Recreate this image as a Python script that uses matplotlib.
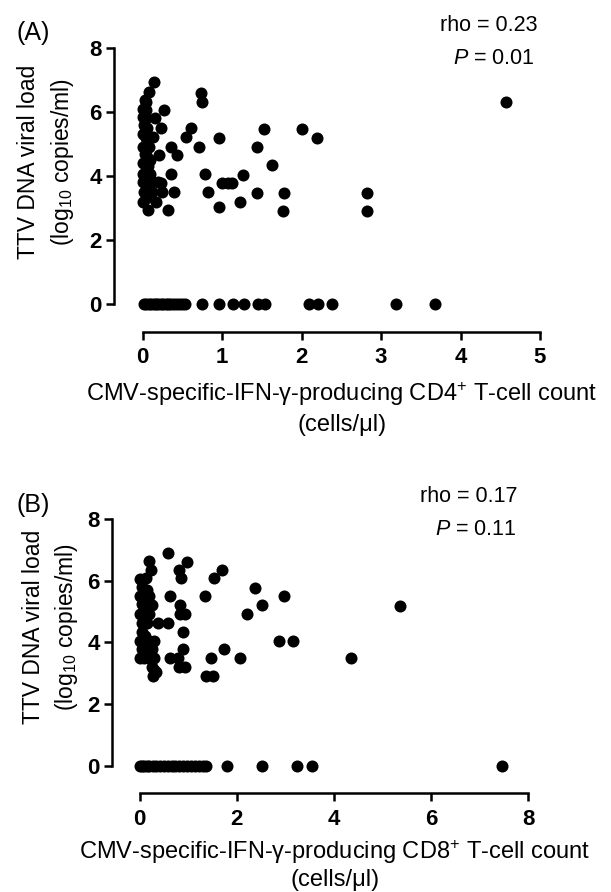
import matplotlib
matplotlib.use("Agg")
import matplotlib.pyplot as plt

plt.rcParams['font.family'] = ['Liberation Sans', 'DejaVu Sans']
plt.rcParams['mathtext.fontset'] = 'custom'
plt.rcParams['mathtext.rm'] = 'Liberation Sans'
plt.rcParams['mathtext.it'] = 'Liberation Sans:italic'

# Panel A: CD4+ counts vs TTV load
cd4_x = [0.15, 0.08, 0.03, 0.00, 0.05, 0.00, 0.02, 0.06, 0.00, 0.04, 0.01, 0.08,
         0.03, 0.06, 0.00, 0.07, 0.03, 0.10, 0.00, 0.08, 0.02, 0.12, 0.05, 0.00,
         0.07, 0.10, 0.04, 0.09, 0.00, 0.05,
         0.27, 0.16, 0.23, 0.13, 0.61, 0.55, 0.71, 0.36, 0.44, 0.21, 0.36, 0.78,
         0.23, 0.40, 0.25, 0.82, 0.17, 0.32, 0.73, 0.75, 0.96, 0.96, 1.00, 1.07,
         1.12, 1.23, 1.27, 1.44, 1.53, 1.44, 1.63, 1.78, 1.77, 2.00, 2.20, 2.82,
         2.82, 4.57, 0.20]
cd4_y = [6.93, 6.64, 6.37, 6.10, 6.05, 5.85, 5.60, 5.50, 5.30, 5.20, 4.92, 4.92,
         4.70, 4.60, 4.40, 4.30, 4.05, 4.05, 3.80, 3.75, 3.50, 3.49, 3.30, 3.20,
         2.94, 4.50, 5.80, 3.90, 4.05, 6.30,
         6.06, 5.80, 5.49, 5.23, 5.49, 5.23, 4.92, 4.92, 4.66, 4.66, 4.05, 4.05,
         3.77, 3.49, 3.49, 3.49, 3.20, 2.94, 6.60, 6.32, 5.19, 3.04, 3.77, 3.77,
         3.77, 3.20, 4.04, 4.90, 5.46, 3.48, 4.33, 3.48, 2.92, 5.46, 5.19, 3.48,
         2.92, 6.32, 3.80]
cd4_zero_x = [0.02, 0.05, 0.08, 0.11, 0.14, 0.17, 0.20, 0.23, 0.26, 0.29, 0.32,
              0.35, 0.38, 0.42, 0.46, 0.50, 0.54, 0.75, 0.96, 1.14, 1.28, 1.45,
              1.54, 2.10, 2.21, 2.38, 3.19, 3.68]

# Panel B: CD8+ counts vs TTV load
cd8_x = [0.00, 0.13, 0.19, 0.24, 0.05, 0.15, 0.00, 0.10, 0.20, 0.05, 0.15, 0.25,
         0.00, 0.10, 0.20, 0.05, 0.15, 0.05, 0.12, 0.00, 0.10, 0.20, 0.30, 0.05,
         0.15, 0.25, 0.00, 0.10, 0.20, 0.30, 0.25, 0.29, 0.28, 0.35,
         0.59, 0.98, 0.81, 0.86, 1.54, 1.70, 2.37, 0.62, 1.34, 2.98, 2.53, 5.37,
         0.83, 0.83, 0.94, 2.21, 0.39, 0.59, 0.89, 2.88, 3.16, 0.89, 1.75, 0.62,
         0.79, 1.48, 2.07, 4.36, 0.81, 0.94, 1.36, 1.51]
cd8_y = [6.04, 6.08, 6.65, 6.35, 5.80, 5.70, 5.50, 5.50, 5.50, 5.25, 5.20, 5.20,
         4.92, 4.92, 4.92, 4.64, 4.64, 4.35, 4.20, 4.04, 4.04, 4.04, 4.04, 3.77,
         3.77, 3.77, 3.49, 3.49, 3.49, 3.49, 3.20, 3.10, 2.92, 3.05,
         6.91, 6.62, 6.35, 6.08, 6.08, 6.35, 5.77, 5.50, 5.50, 5.50, 5.21, 5.19,
         5.21, 4.91, 4.91, 4.92, 4.64, 4.64, 4.32, 4.04, 4.04, 3.77, 3.77, 3.48,
         3.48, 3.48, 3.48, 3.48, 3.21, 3.21, 2.92, 2.92]
cd8_zero_x = [0.00, 0.05, 0.10, 0.15, 0.20, 0.27, 0.34, 0.42, 0.50, 0.58, 0.66,
              0.74, 0.82, 0.90, 0.98, 1.06, 1.14, 1.22, 1.30, 1.36, 1.80, 2.53,
              3.24, 3.55, 7.47]

W, H = 611, 892
fig = plt.figure(figsize=(W / 100, H / 100), dpi=100)


def px_axes(x0, x1, ytop, ybot):
    return fig.add_axes([x0 / W, 1 - ybot / H, (x1 - x0) / W, (ybot - ytop) / H])


def style(ax, xmax, xticks, left_off, bot_off):
    ax.set_xlim(0, xmax)
    ax.set_ylim(0, 8)
    ax.set_xticks(xticks)
    ax.set_yticks([0, 2, 4, 6, 8])
    for s in ['top', 'right']:
        ax.spines[s].set_visible(False)
    ax.spines['left'].set_position(('outward', left_off))
    ax.spines['bottom'].set_position(('outward', bot_off))
    for s in ['left', 'bottom']:
        ax.spines[s].set_linewidth(1.8)
    ax.tick_params(width=1.8, length=5.8, labelsize=16)
    ax.tick_params(axis='x', pad=5.5)
    ax.tick_params(axis='y', pad=3)
    for lab in ax.get_xticklabels() + ax.get_yticklabels():
        lab.set_fontweight('bold')


axA = px_axes(142.5, 540, 48, 304)
axA.scatter(cd4_x, cd4_y, s=75, c='black', linewidths=0, clip_on=False, zorder=3)
axA.scatter(cd4_zero_x, [0] * len(cd4_zero_x), s=75, c='black', linewidths=0,
            clip_on=False, zorder=3)
style(axA, 5, [0, 1, 2, 3, 4, 5], 20.5, 20)

axB = px_axes(139.5, 528, 519, 765.7)
axB.scatter(cd8_x, cd8_y, s=75, c='black', linewidths=0, clip_on=False, zorder=3)
axB.scatter(cd8_zero_x, [0] * len(cd8_zero_x), s=75, c='black', linewidths=0,
            clip_on=False, zorder=3)
style(axB, 8, [0, 2, 4, 6, 8], 20, 20)

fs = 16.5
# panel letters and stats
fig.text(33 / W, 1 - 33 / H, '(A)', fontsize=18, ha='center', va='center')
fig.text(537 / W, 1 - 31 / H, 'rho = 0.23', fontsize=15.5, ha='right', va='baseline')
fig.text(535 / W, 1 - 64 / H, '$P$ = 0.01', fontsize=15.5, ha='right', va='baseline')
fig.text(33 / W, 1 - 505 / H, '(B)', fontsize=18, ha='center', va='center')
fig.text(518 / W, 1 - 502 / H, 'rho = 0.17', fontsize=15.5, ha='right', va='baseline')
fig.text(517 / W, 1 - 535 / H, '$P$ = 0.11', fontsize=15.5, ha='right', va='baseline')

# y labels
for yc, x1, x2 in [(162, 29, 62), (627, 34, 66)]:
    fig.text(x1 / W, 1 - yc / H, 'TTV DNA viral load', fontsize=fs, rotation=90,
             ha='center', va='center')
    fig.text(x2 / W, 1 - yc / H, '(log$_{10}$ copies/ml)', fontsize=fs, rotation=90,
             ha='center', va='center')

# x labels
fig.text(342 / W, 1 - 401 / H, 'CMV-specific-IFN-γ-producing CD4$^{+}$ T-cell count',
         fontsize=17, ha='center', va='baseline')
fig.text(342 / W, 1 - 431 / H, '(cells/μl)', fontsize=17, ha='center', va='baseline')
fig.text(335 / W, 1 - 859 / H, 'CMV-specific-IFN-γ-producing CD8$^{+}$ T-cell count',
         fontsize=17, ha='center', va='baseline')
fig.text(335 / W, 1 - 886 / H, '(cells/μl)', fontsize=17, ha='center', va='baseline')

fig.savefig('out.png', dpi=100)
